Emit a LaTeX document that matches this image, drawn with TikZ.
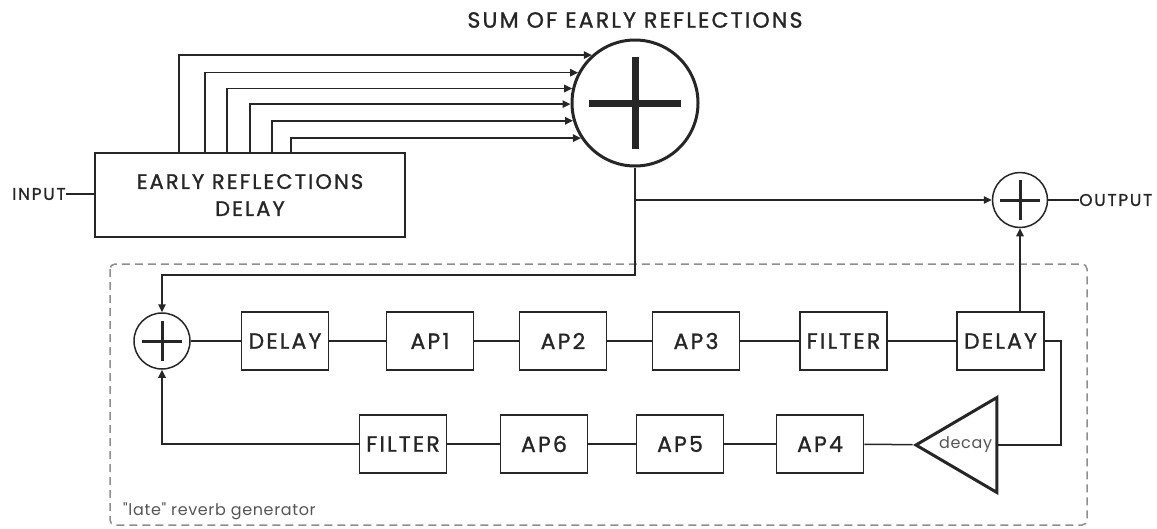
\documentclass[tikz,border=0pt]{standalone}
\usepackage{fontspec}
\setmainfont{Poppins}
\newfontfamily\capsfont{Poppins}[FakeBold=1.2, LetterSpace=10]
\newfontfamily\plainfont{Poppins}[LetterSpace=4]
\usepackage{xcolor}
\usetikzlibrary{arrows.meta,shapes.geometric}

\definecolor{ink}{HTML}{262626}
\definecolor{softgray}{HTML}{8E8E8E}
\definecolor{textgray}{HTML}{555555}

\newcommand{\bigtxt}{\capsfont\fontsize{22}{27}\selectfont}
\newcommand{\erdtxt}{\capsfont\fontsize{21}{27}\selectfont}
\newcommand{\smalltxt}{\capsfont\fontsize{17}{19}\selectfont}
\newcommand{\lowtxt}{\plainfont\fontsize{16}{18}\selectfont}

\begin{document}
\begin{tikzpicture}[x=1pt, y=-1pt, font=\bigtxt,
  line/.style={draw=ink, line width=1.5pt},
  arr/.style={line, -{Triangle[length=8pt,width=7.5pt]}},
  blk/.style={draw=ink, line width=1.6pt, minimum width=87, minimum height=58, inner sep=0pt, text=ink},
  adder/.style={circle, draw=ink, line width=1.5pt, inner sep=0pt},
  amp/.style={isosceles triangle, isosceles triangle stretches, shape border rotate=180,
    draw=ink, line width=3pt, minimum width=95, minimum height=81, inner sep=0pt,
    font=\lowtxt, text=textgray},
  lbl/.style={inner sep=0pt, text=ink},
  frame/.style={draw=softgray, line width=1.5pt, dash pattern=on 8pt off 5pt, rounded corners=5pt}]
  \useasboundingbox (0,0) rectangle (1157,528);

  % early reflections part
  \node[lbl] (ttl) at (635,20) {SUM OF EARLY REFLECTIONS};
  \node[adder, line width=3pt, minimum size=126] (sum) at (635,103) {};
  \node[blk, minimum width=310, minimum height=84, align=center, font=\erdtxt] (erd) at (250,195)
    {\raisebox{-4pt}{EARLY REFLECTIONS}\\\raisebox{-4pt}{DELAY}};
  \node[lbl, font=\smalltxt, anchor=west] (in) at (12,194) {INPUT};
  \node[adder, minimum size=55] (out) at (1020,200) {};
  \node[lbl, font=\smalltxt, anchor=west] (outlbl) at (1079,200) {OUTPUT};

  % late reverb loop
  \draw[frame] (110,264) rectangle (1087,525);
  \node[lbl, font=\lowtxt, text=textgray, anchor=west] (late) at (123,511) {"late" reverb generator};
  \node[adder, minimum size=56] (mix) at (162,341) {};
  \node[blk] (dly1) at (285,341) {DELAY};
  \node[blk] (ap1) at (430,341) {AP1};
  \node[blk] (ap2) at (563,341) {AP2};
  \node[blk] (ap3) at (696,341) {AP3};
  \node[blk] (filt1) at (843.5,341) {FILTER};
  \node[blk] (dly2) at (1000.5,341) {DELAY};
  \node[blk] (filt2) at (403,444) {FILTER};
  \node[blk] (ap6) at (544,444) {AP6};
  \node[blk] (ap5) at (680,444) {AP5};
  \node[blk] (ap4) at (820,444) {AP4};
  \node[amp, anchor=west] (decay) at (912,445) {decay};

  % plus signs
  \foreach \n/\s/\w in {sum/46/7, out/20/3, mix/20/3}
    \draw[ink, line width=\w pt] ([xshift=-\s pt]\n.center) -- ([xshift=\s pt]\n.center)
      ([yshift=-\s pt]\n.center) -- ([yshift=\s pt]\n.center);

  % taps into the sum
  \foreach \dx/\a in {85/132, 111/152, 133/167, 156/181, 178/196, 197/213}
    \draw[arr] ([xshift=\dx pt]erd.north west) |- (sum.\a);
  \draw[line] (in.east) -- (erd.west |- in.east);

  \coordinate (bus) at (635,275);
  \draw[arr] (sum.south) -- (bus) -| (mix.north);
  \draw[arr] (sum.south |- out.west) -- (out.west);
  \draw[line] (out.east) -- (outlbl.west);
  \draw[arr] (out.south |- dly2.north) -- (out.south);

  \foreach \a/\b in {mix/dly1, dly1/ap1, ap1/ap2, ap2/ap3, ap3/filt1, filt1/dly2,
                     decay/ap4, ap4/ap5, ap5/ap6, ap6/filt2}
    \draw[line] (\a) -- (\b);
  \draw[line] (dly2.east) -- ++(16,0) |- (decay.east);
  \draw[arr] (filt2.west) -| (mix.south);
\end{tikzpicture}
\end{document}
